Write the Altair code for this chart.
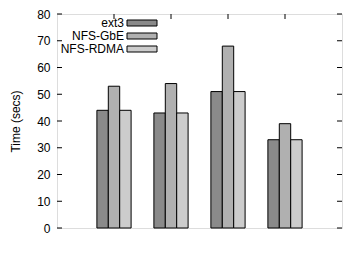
import altair as alt
import pandas as pd

# Benchmark times (seconds) per configuration and file system
categories = ["Default", "AHLW-0.3", "AHLW-0.6", "GHOST"]
series = ["ext3", "NFS-GbE", "NFS-RDMA"]
ext3 = [44, 43, 51, 33]
nfs_gbe = [53, 54, 68, 39]
nfs_rdma = [44, 43, 51, 33]
y_ticks = [0, 10, 20, 30, 40, 50, 60, 70, 80]

fills = ["#8a8a8a", "#b0b0b0", "#cccccc"]
FONT = "Liberation Sans"
FS = 12

rows = []
for name, vals in zip(series, [ext3, nfs_gbe, nfs_rdma]):
    for cat, v in zip(categories, vals):
        rows.append({"cat": cat, "series": name, "value": v})
bars_df = pd.DataFrame(rows)
ticks_df = pd.DataFrame({"v": y_ticks})
cats_df = pd.DataFrame({"cat": categories})
legend_df = pd.DataFrame({"series": series})

W, H = 285, 214
y_scale = alt.Scale(domain=[0, 80], nice=False)
x_scale = alt.Scale(domain=categories, paddingInner=0.4, paddingOuter=0.7)

bars = alt.Chart(bars_df).mark_bar(stroke="black", strokeWidth=1, opacity=1).encode(
    x=alt.X("cat:N", scale=x_scale, sort=categories,
            axis=alt.Axis(title=None, labelAngle=0, ticks=False, domain=False,
                          labelPadding=4, labelFontSize=FS, labelFont=FONT,
                          labelColor="black")),
    xOffset=alt.XOffset("series:N", sort=series),
    y=alt.Y("value:Q", scale=y_scale,
            axis=alt.Axis(title="Time (secs)", values=y_ticks, ticks=False,
                          domain=False, grid=False, labelPadding=7,
                          labelFontSize=FS, labelFont=FONT, labelColor="black",
                          titleFont=FONT, titleFontSize=FS, titleFontWeight="normal",
                          titleColor="black", titlePadding=14)),
    fill=alt.Fill("series:N", sort=series,
                  scale=alt.Scale(domain=series, range=fills), legend=None),
)

left_ticks = alt.Chart(ticks_df).mark_rule(color="black").encode(
    y=alt.Y("v:Q", scale=y_scale, axis=None), x=alt.value(0), x2=alt.value(5))
right_ticks = alt.Chart(ticks_df).mark_rule(color="black").encode(
    y=alt.Y("v:Q", scale=y_scale, axis=None), x=alt.value(W - 5), x2=alt.value(W))
top_ticks = alt.Chart(cats_df).mark_rule(color="black").encode(
    x=alt.X("cat:N", scale=x_scale, sort=categories, axis=None),
    y=alt.value(0), y2=alt.value(5))

legend_y = alt.Scale(domain=series, range=[9, 35], type="point", padding=0)
legend_text = alt.Chart(legend_df).mark_text(
    align="right", baseline="middle", font=FONT, fontSize=FS, color="black"
).encode(
    y=alt.Y("series:N", scale=legend_y, axis=None, sort=series),
    x=alt.value(67),
    text="series:N",
)
legend_box = alt.Chart(legend_df).mark_point(
    shape="M-1,-0.2H1V0.2H-1Z", size=900, filled=True, stroke="black",
    strokeWidth=1, opacity=1
).encode(
    y=alt.Y("series:N", scale=legend_y, axis=None, sort=series),
    x=alt.value(85),
    fill=alt.Fill("series:N", scale=alt.Scale(domain=series, range=fills), legend=None),
)

chart = alt.layer(
    bars, left_ticks, right_ticks, top_ticks, legend_text, legend_box
).resolve_scale(y="independent").properties(
    width=W, height=H,
    autosize=alt.AutoSizeParams(type="none"),
    padding={"left": 57, "top": 14, "right": 11, "bottom": 26},
).configure_view(stroke="black", strokeWidth=1).configure(background="white")

chart.save("out.html", embed_options={"renderer": "svg", "actions": False})
